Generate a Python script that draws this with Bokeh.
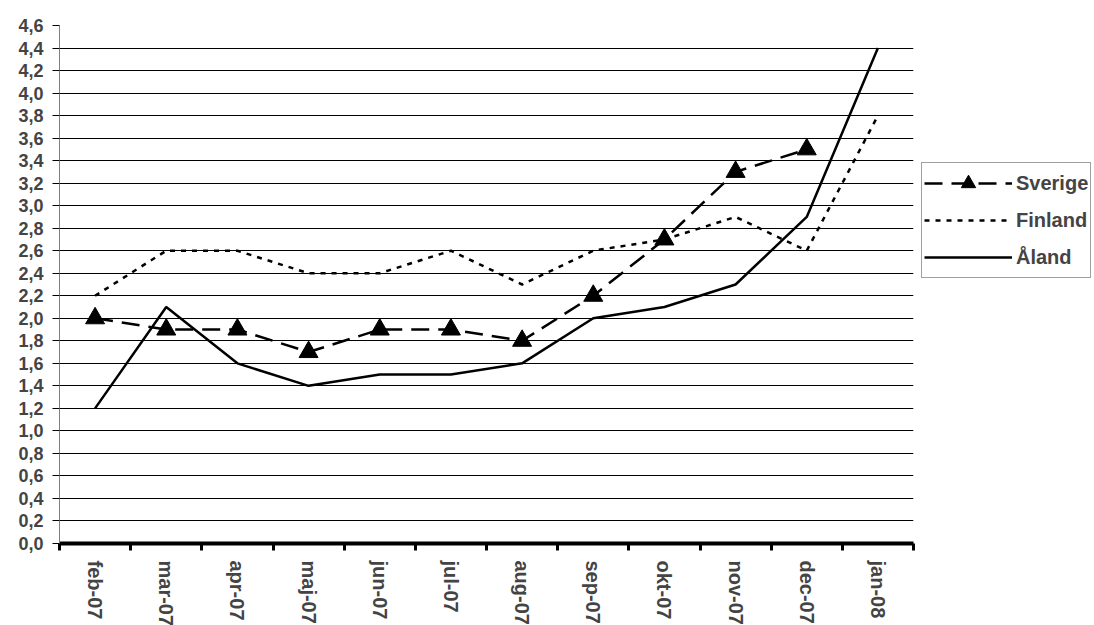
import math
from bokeh.plotting import figure
from bokeh.models import FixedTicker, Legend, LegendItem, Range1d, ColumnDataSource
from bokeh.embed import file_html
from bokeh.resources import INLINE

categories = ["feb-07", "mar-07", "apr-07", "maj-07", "jun-07", "jul-07",
              "aug-07", "sep-07", "okt-07", "nov-07", "dec-07", "jan-08"]
sverige = [2.0, 1.9, 1.9, 1.7, 1.9, 1.9, 1.8, 2.2, 2.7, 3.3, 3.5, float("nan")]
finland = [2.2, 2.6, 2.6, 2.4, 2.4, 2.6, 2.3, 2.6, 2.7, 2.9, 2.6, 3.8]
aland = [1.2, 2.1, 1.6, 1.4, 1.5, 1.5, 1.6, 2.0, 2.1, 2.3, 2.9, 4.4]
y_ticks = [0.0, 0.2, 0.4, 0.6, 0.8, 1.0, 1.2, 1.4, 1.6, 1.8, 2.0, 2.2, 2.4,
           2.6, 2.8, 3.0, 3.2, 3.4, 3.6, 3.8, 4.0, 4.2, 4.4, 4.6]

FONT = "Liberation Sans"
n = len(categories)
xs = [i + 0.5 for i in range(n)]
src = ColumnDataSource(dict(x=xs, sverige=sverige, finland=finland, aland=aland))

p = figure(frame_width=854, frame_height=518, output_backend="svg",
           toolbar_location=None, x_range=Range1d(0, n), y_range=Range1d(0, y_ticks[-1]),
           min_border_left=59, min_border_top=25, min_border_bottom=0, min_border_right=0)
p.outline_line_color = None
p.background_fill_color = "white"

# grid
p.xgrid.visible = False
p.ygrid.ticker = FixedTicker(ticks=y_ticks)
p.ygrid.grid_line_color = "black"
p.ygrid.grid_line_width = 1

# y axis
p.yaxis.ticker = FixedTicker(ticks=y_ticks)
p.yaxis.major_label_overrides = {v: f"{v:.1f}".replace(".", ",") for v in y_ticks}
p.yaxis.axis_line_color = "#808080"
p.yaxis.major_tick_out = 7
p.yaxis.major_tick_in = 0
p.yaxis.minor_tick_line_color = None
p.yaxis.major_label_text_font = FONT
p.yaxis.major_label_text_font_style = "bold"
p.yaxis.major_label_text_font_size = "18px"
p.yaxis.major_label_standoff = 9

# x axis
p.xaxis.ticker = FixedTicker(ticks=xs, minor_ticks=list(range(n + 1)))
p.xaxis.major_label_overrides = {x: c for x, c in zip(xs, categories)}
p.xaxis.axis_line_width = 4
p.xaxis.axis_line_color = "black"
p.xaxis.major_tick_line_color = None
p.xaxis.major_tick_out = 7
p.xaxis.minor_tick_out = 7
p.xaxis.minor_tick_in = 0
p.xaxis.minor_tick_line_width = 3
p.xaxis.minor_tick_line_color = "black"
p.xaxis.major_label_orientation = "vertical"
p.xaxis.major_label_text_font = FONT
p.xaxis.major_label_text_font_style = "bold"
p.xaxis.major_label_text_font_size = "20px"
p.xaxis.major_label_standoff = 10

# series
r_sv_line = p.line("x", "sverige", source=src, line_color="black", line_width=2.5, line_dash="18 9")
r_sv_pts = p.scatter("x", "sverige", source=src, marker="triangle", size=19,
                     fill_color="black", line_color="black")
r_fi = p.line("x", "finland", source=src, line_color="black", line_width=2.5, line_dash="5 6")
r_al = p.line("x", "aland", source=src, line_color="black", line_width=2.5)

legend = Legend(items=[
    LegendItem(label="Sverige", renderers=[r_sv_line, r_sv_pts]),
    LegendItem(label="Finland", renderers=[r_fi]),
    LegendItem(label="Åland", renderers=[r_al]),
], location=(8, 265))
legend.label_text_font = FONT
legend.label_text_font_style = "bold"
legend.label_text_font_size = "20px"
legend.glyph_width = 88
legend.glyph_height = 36
legend.label_height = 36
legend.label_standoff = 4
legend.spacing = 1
legend.padding = 2
legend.margin = 0
legend.border_line_color = "#404040"
legend.border_line_width = 1
legend.background_fill_alpha = 1
p.add_layout(legend, "right")

open("out.html", "w").write(file_html(p, INLINE))
